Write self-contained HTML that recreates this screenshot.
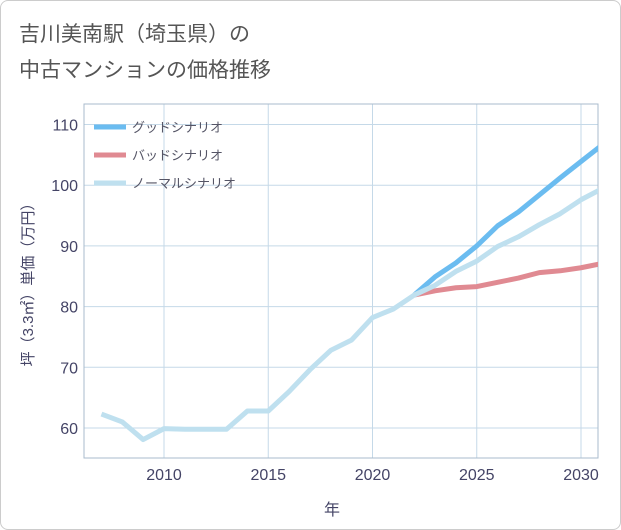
<!DOCTYPE html>
<html><head><meta charset="utf-8"><style>
body{margin:0;background:#fff;font-family:"Liberation Sans","Noto Sans CJK JP",sans-serif;}
#wrap{position:relative;width:619px;height:528px;border:1px solid #ccc;border-radius:8px;overflow:hidden;}
</style></head><body>
<div id="wrap">
<svg id="chart" width="619" height="528">
<text x="18" y="40" font-size="21" fill="#555">吉川美南駅（埼玉県）の</text>
<text x="18" y="76" font-size="21" fill="#555">中古マンションの価格推移</text>
<g id="grid"></g><g id="series"></g><g id="legend"></g>
<text x="331" y="514" font-size="16" fill="#446" text-anchor="middle">年</text>
<text transform="translate(32,280) rotate(-90)" font-size="15" fill="#446" text-anchor="middle">坪（3.3㎡）単価（万円）</text>
</svg></div>
<script>
const years=[2007,2008,2009,2010,2011,2012,2013,2014,2015,2016,2017,2018,2019,2020,2021,2022,2023,2024,2025,2026,2027,2028,2029,2030,2031];
const normal=[62.3,61,58.1,59.9,59.8,59.8,59.8,62.8,62.8,66,69.6,72.8,74.5,78.2,79.6,81.9,83.5,85.8,87.5,89.9,91.5,93.5,95.3,97.6,99.4];
const futureYears=[2022,2023,2024,2025,2026,2027,2028,2029,2030,2031];
const good=[81.9,84.9,87.2,90,93.3,95.6,98.4,101.2,103.9,106.6];
const bad=[81.9,82.6,83.1,83.3,84,84.7,85.6,85.9,86.4,87.1];
const xTicks=[2010,2015,2020,2025,2030];
const yTicks=[60,70,80,90,100,110];
const L=83,R=597,T=103,B=457;
const x=v=>163+(v-2010)*20.85;
const y=v=>427-(v-60)*6.07;
const NS="http://www.w3.org/2000/svg";
function mk(p,tag,a){const e=document.createElementNS(NS,tag);for(const k in a)e.setAttribute(k,a[k]);p.appendChild(e);return e;}
const svg=document.getElementById('chart');
const g=document.getElementById('grid');
const clip=mk(mk(svg,'defs',{}),'clipPath',{id:'pc'});mk(clip,'rect',{x:L,y:T,width:R-L,height:B-T});
xTicks.forEach(t=>{const l=mk(g,'line',{x1:x(t),x2:x(t),y1:T,y2:B,stroke:'#c5d9e8'});
const tx=mk(g,'text',{x:x(t),y:B+22,'font-size':16,fill:'#446','text-anchor':'middle'});tx.textContent=t;});
yTicks.forEach(t=>{const l=mk(g,'line',{x1:L,x2:R,y1:y(t),y2:y(t),stroke:'#c5d9e8'});
const tx=mk(g,'text',{x:L-6,y:y(t)+6,'font-size':16,fill:'#446','text-anchor':'end'});tx.textContent=t;});
const fr=mk(g,'rect',{x:L,y:T,width:R-L,height:B-T,fill:'none',stroke:'#aabbcc'});
const s=document.getElementById('series');s.setAttribute('clip-path','url(#pc)');
function line(xs,vs,c,n){const p=mk(s,'polyline',{points:xs.map((v,i)=>x(v)+','+y(vs[i])).join(' '),fill:'none',stroke:c,'stroke-width':5,'stroke-linejoin':'round'});}
line(futureYears,good,'#6bbcf0','good-scenario-line');
line(futureYears,bad,'#e08a92','bad-scenario-line');
line(years,normal,'#bfe0ef','normal-scenario-line');
const lg=document.getElementById('legend');
[['グッドシナリオ','#6bbcf0'],['バッドシナリオ','#e08a92'],['ノーマルシナリオ','#bfe0ef']].forEach((d,i)=>{const yy=126+i*28;
const l=mk(lg,'line',{x1:93,x2:125,y1:yy,y2:yy,stroke:d[1],'stroke-width':5});
const t=mk(lg,'text',{x:131,y:yy+5,'font-size':13,fill:'#556'});t.textContent=d[0];});
</script></body></html>
